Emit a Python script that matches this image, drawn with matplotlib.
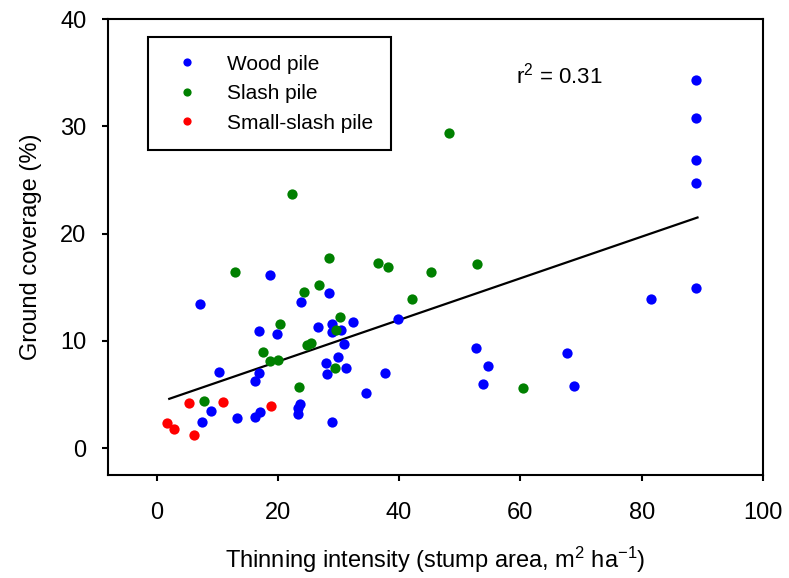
import matplotlib
matplotlib.use('Agg')
import matplotlib.pyplot as plt
import numpy as np

plt.rcParams['font.family'] = ['Liberation Sans', 'DejaVu Sans']
plt.rcParams['mathtext.default'] = 'regular'

# wood pile
wood_x = [7.2, 18.7, 28.4, 23.9, 32.4, 28.9, 26.6, 16.9, 19.8, 28.9, 30.5, 30.9,
          27.9, 30.0, 31.2, 28.1, 10.3, 16.9, 16.3, 9.0, 23.6, 23.4, 23.4, 17.0,
          16.3, 13.3, 7.5, 29.0, 39.8, 52.6, 54.6, 53.9, 37.7, 34.6, 89.0, 89.0,
          89.0, 89.0, 89.0, 81.5, 67.7, 68.9]
wood_y = [13.4, 16.1, 14.5, 13.6, 11.8, 11.6, 11.3, 10.9, 10.6, 10.8, 11.0, 9.7,
          7.9, 8.5, 7.5, 6.9, 7.1, 7.0, 6.3, 3.5, 4.1, 3.75, 3.2, 3.4,
          2.9, 2.8, 2.4, 2.4, 12.0, 9.3, 7.7, 6.0, 7.0, 5.1, 34.3, 30.8,
          26.9, 24.7, 14.9, 13.9, 8.9, 5.8]

# slash pile
slash_x = [22.4, 12.9, 28.5, 26.8, 24.3, 30.2, 20.3, 29.6, 24.8, 25.5, 17.6, 18.7,
           20.1, 29.4, 23.5, 7.8, 48.3, 36.6, 38.2, 52.8, 45.3, 42.2, 60.4]
slash_y = [23.7, 16.4, 17.7, 15.2, 14.6, 12.2, 11.6, 11.0, 9.6, 9.8, 9.0, 8.1,
           8.2, 7.5, 5.7, 4.4, 29.4, 17.3, 16.9, 17.2, 16.4, 13.9, 5.6]

# small-slash pile
small_x = [5.3, 10.9, 18.8, 1.8, 2.9, 6.1]
small_y = [4.2, 4.3, 3.9, 2.3, 1.8, 1.2]

# regression line end points
fit_x = [2.1, 89.2]
fit_y = [4.6, 21.5]

fig = plt.figure(figsize=(7.89, 5.78), dpi=100)
ax = fig.add_axes([108 / 789, 1 - 475 / 578, 655 / 789, 456 / 578])

ax.plot(fit_x, fit_y, color='black', lw=1.6, zorder=2)
ax.plot(wood_x, wood_y, 'o', color='#0000ff', ms=7.4, mew=0, label='Wood pile', zorder=3)
ax.plot(slash_x, slash_y, 'o', color='#008000', ms=7.4, mew=0, label='Slash pile', zorder=3)
ax.plot(small_x, small_y, 'o', color='#ff0000', ms=7.4, mew=0, label='Small-slash pile', zorder=3)

ax.set_xlim(-8, 100)
ax.set_ylim(-2.5, 40)
ax.set_xticks([0, 20, 40, 60, 80, 100])
ax.set_yticks([0, 10, 20, 30, 40])

for s in ax.spines.values():
    s.set_linewidth(1.5)
ax.tick_params(direction='out', length=4.5, width=1.5, labelsize=17, pad=11)
ax.tick_params(axis='x', pad=15)

ax.set_xlabel('Thinning intensity (stump area, m$^2$ ha$^{-1}$)', fontsize=17, labelpad=15)
ax.set_ylabel('Ground coverage (%)', fontsize=17, labelpad=13)

ax.text(59.3, 34.0, 'r$^2$ = 0.31', fontsize=16)

leg = ax.legend(loc='upper left', bbox_to_anchor=(40 / 655, 1 - 18 / 456), borderaxespad=0,
                fontsize=15, markerscale=0.8, handlelength=2.0, handletextpad=0.95,
                borderpad=0.85, labelspacing=0.5, fancybox=False, framealpha=1,
                edgecolor='black')
leg.get_frame().set_linewidth(1.5)

fig.savefig('out.png', dpi=100)
